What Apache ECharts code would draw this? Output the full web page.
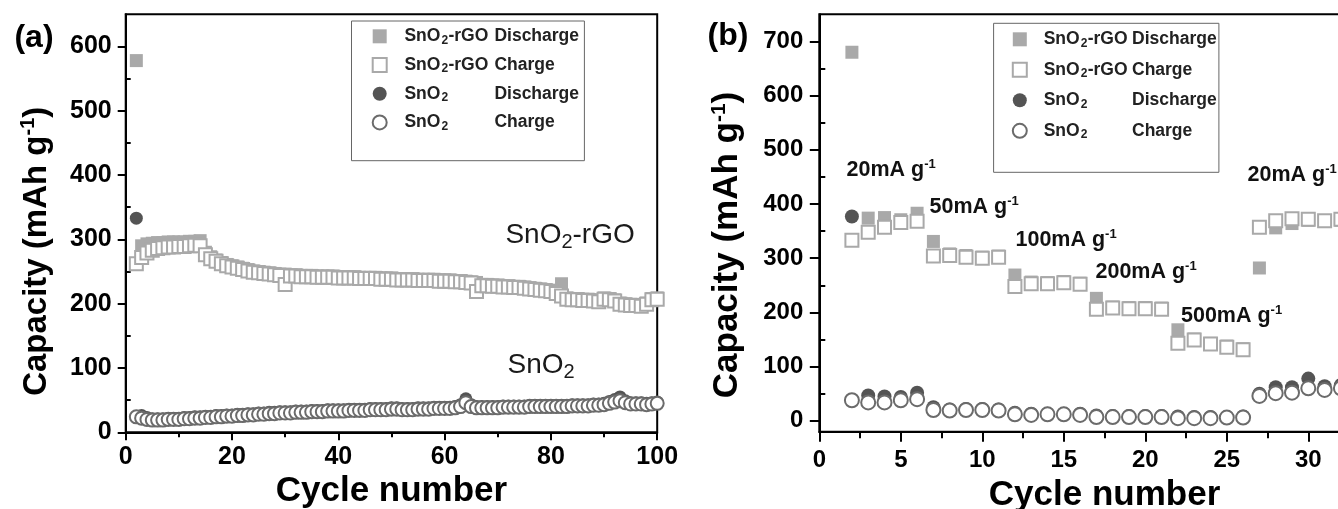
<!DOCTYPE html>
<html><head><meta charset="utf-8">
<script src="https://cdn.jsdelivr.net/npm/echarts@6/dist/echarts.min.js"></script>
<style>html,body{margin:0;padding:0;background:#fff}#c{width:1338px;height:509px}</style>
</head><body><div id="c"></div>
<script>
// ---------- Panel (a): cycling at constant current ----------
const cyclesA = [2,3,4,5,6,7,8,9,10,11,12,13,14,15,16,17,18,19,20,21,22,23,24,25,26,27,28,29,30,31,32,33,34,35,36,37,38,39,40,41,42,43,44,45,46,47,48,49,50,51,52,53,54,55,56,57,58,59,60,61,62,63,64,65,66,67,68,69,70,71,72,73,74,75,76,77,78,79,80,81,82,83,84,85,86,87,88,89,90,91,92,93,94,95,96,97,98,99,100];
const rgoDischargeA = [578,290,293,294,295,295,296,296,296,296, 297,297,298,280,273,268,264,261,259,257, 255,253,251,250,249,248,247,246,246,245, 245,244,244,244,243,243,243,243,242,242, 242,242,241,241,241,241,240,240,240,239, 239,239,239,238,238,238,238,237,237,237, 236,236,235,234,233,230,230,229,229,228, 228,227,227,226,225,224,223,222,221,219, 231,209,208,208,207,207,206,205,209,208, 206,201,200,199,199,198,201,208,209];
const rgoChargeA = [262,272,279,283,286,287,288,288,289,289, 290,291,290,276,270,266,262,259,257,255, 253,251,249,248,247,246,245,244,230,243, 243,242,242,242,241,241,241,241,240,240, 240,240,239,239,239,239,238,238,238,237, 237,237,237,236,236,236,236,235,235,235, 234,234,233,232,219,228,228,227,227,226, 226,225,225,224,223,222,221,220,219,216, 212,207,206,206,205,205,204,203,207,206, 204,199,198,197,197,196,199,206,207];
const sno2DischargeA = [333,26,23,21,21,21,22,22,22,23, 23,24,24,25,25,26,26,27,27,28, 28,29,29,30,30,31,31,32,32,32, 33,33,33,34,34,34,35,35,35,35, 36,36,36,36,37,37,37,37,38,38, 37,37,37,38,38,38,39,39,39,39, 40,43,52,43,40,40,40,40,40,41, 41,41,41,41,42,42,42,42,42,42, 42,42,43,43,43,43,44,44,45,48, 51,55,49,46,46,46,45,46,47];
const sno2ChargeA = [24,22,20,19,19,19,20,20,20,21, 21,22,22,23,23,24,24,25,25,26, 26,27,27,28,28,29,29,30,30,30, 31,31,31,32,32,32,33,33,33,33, 34,34,34,34,35,35,35,35,36,36, 35,35,35,36,36,36,37,37,37,37, 38,40,46,40,38,38,38,38,38,39, 39,39,39,39,40,40,40,40,40,40, 40,40,41,41,41,41,42,42,43,45, 47,49,46,44,44,44,43,44,45];
const yTicksA = [0,100,200,300,400,500,600];
const yMinorA = [50,150,250,350,450,550];

// ---------- Panel (b): rate capability ----------
const cyclesB = [2,3,4,5,6,7,8,9,10,11,12,13,14,15,16,17,18,19,20,21,22,23,24,25,26,27,28,29,30,31,32];
const rgoDischargeB = [680,374,375,371,383, 331,308,305,302,304, 269,256,255,257,254, 226,210,209,209,208, 168,151,143,138,133, 282,356,364,370,368, 370];
const rgoChargeB = [333,348,357,366,368, 304,305,302,300,302, 248,253,253,255,252, 206,208,207,207,206, 143,149,142,136,131, 357,369,373,372,369, 372];
const sno2DischargeB = [377,47,45,44,52, 25,21,22,22,21, 15,13,13,13,13, 10,9,9,9,9, 8,7,7,7,8, 50,62,62,78,64, 66];
const sno2ChargeB = [38,34,34,38,40, 20,19,20,20,19, 12,11,12,12,11, 7,7,7,7,7, 5,5,5,6,6, 46,51,52,60,57, 60];
const yTicksB = [0,100,200,300,400,500,600,700];
const yMinorB = [50,150,250,350,450,550,650];
const rateLabels = ['20mA g', '50mA g', '100mA g', '200mA g', '500mA g', '20mA g'];

const seriesNames = ['SnO2-rGO Discharge', 'SnO2-rGO Charge', 'SnO2 Discharge', 'SnO2 Charge'];

// ---------- build ----------
const FONT = '"Liberation Sans", Arial, Helvetica, sans-serif';
const pairs = (xs, ys) => xs.map((x, i) => [x, ys[i]]);
const C_RGO = '#a9a9a9', C_SNO_F = '#545454', C_SNO_O = '#6b6b6b';

function mkSeries(name, xs, ys, xi, yi, size) {
  const isRgo = name.indexOf('rGO') >= 0;
  const isDis = name.indexOf('Discharge') >= 0;
  const s = {
    type: 'scatter', name: name, xAxisIndex: xi, yAxisIndex: yi,
    data: pairs(xs, ys), symbol: isRgo ? 'rect' : 'circle',
    symbolSize: size, silent: true, clip: false,
    emphasis: {disabled: true}
  };
  if (isDis) s.itemStyle = {color: isRgo ? C_RGO : C_SNO_F, borderWidth: 0, opacity: 1};
  else s.itemStyle = {color: '#ffffff', borderColor: isRgo ? C_RGO : C_SNO_O, borderWidth: 2, opacity: 1};
  return s;
}

function legendFormatter(name) {
  const map = {
    'SnO2-rGO Discharge': ['-rGO', 'Discharge'],
    'SnO2-rGO Charge': ['-rGO', 'Charge'],
    'SnO2 Discharge': [' ', 'Discharge'],
    'SnO2 Charge': [' ', 'Charge']
  };
  const p = map[name];
  return '{sp| }{a|SnO}{s|2}{b|' + p[0] + '}{c|' + p[1] + '}';
}
function legendRich(sp, bw, cw) {
  const base = {fontFamily: FONT, fontWeight: 'bold', color: '#222'};
  return {
    sp: {width: sp, fontSize: 17},
    a: Object.assign({fontSize: 17.5, width: 37}, base),
    s: Object.assign({fontSize: 12, width: 7, verticalAlign: 'bottom', lineHeight: 12}, base),
    b: Object.assign({fontSize: 17.5, width: bw}, base),
    c: Object.assign({fontSize: 17.5, width: cw}, base)
  };
}

const axisLine = {show: true, onZero: false, lineStyle: {color: '#000', width: 2}};
function tickStyle(len) { return {show: true, inside: false, length: len, lineStyle: {color: '#000', width: 2}}; }

function yName(fs, pad) {
  return {
    name: '{t|Capacity (mAh g}{p|-1}{t|)}',
    nameLocation: 'middle',
    nameTextStyle: {
      fontFamily: FONT, fontWeight: 'bold', fontSize: fs, color: '#000', padding: pad,
      rich: {
        t: {fontFamily: FONT, fontWeight: 'bold', fontSize: fs, lineHeight: fs + 4, color: '#000'},
        p: {fontFamily: FONT, fontWeight: 'bold', fontSize: Math.round(fs * 0.6), lineHeight: Math.round(fs * 0.6), verticalAlign: 'top', color: '#000'}
      }
    }
  };
}

const option = {
  animation: false,
  backgroundColor: '#ffffff',
  grid: [
    {left: 125.7, top: 14.3, width: 531.5, height: 418, show: true, borderColor: '#000', borderWidth: 2, outerBoundsMode: 'none', containLabel: false},
    {left: 819.3, top: 14.3, width: 570.5, height: 417.4, show: true, borderColor: '#000', borderWidth: 2, outerBoundsMode: 'none', containLabel: false}
  ],
  xAxis: [
    {type: 'value', gridIndex: 0, min: 0, max: 100, interval: 20,
     axisLine: axisLine, axisTick: tickStyle(8),
     minorTick: {show: true, splitNumber: 2, length: 5, lineStyle: {color: '#000', width: 2}},
     axisLabel: {fontFamily: FONT, fontWeight: 'bold', fontSize: 25, color: '#000', margin: 12},
     splitLine: {show: false}, minorSplitLine: {show: false},
     name: 'Cycle number', nameLocation: 'middle', nameGap: 34,
     nameTextStyle: {fontFamily: FONT, fontWeight: 'bold', fontSize: 35, color: '#000'}},
    {type: 'value', gridIndex: 1, min: 0, max: 35, interval: 5,
     axisLine: axisLine, axisTick: tickStyle(10),
     minorTick: {show: true, splitNumber: 2, length: 6.5, lineStyle: {color: '#000', width: 2}},
     axisLabel: {fontFamily: FONT, fontWeight: 'bold', fontSize: 24, color: '#000', margin: 17},
     splitLine: {show: false}, minorSplitLine: {show: false},
     name: 'Cycle number', nameLocation: 'middle', nameGap: 36,
     nameTextStyle: {fontFamily: FONT, fontWeight: 'bold', fontSize: 35, color: '#000'}}
  ],
  yAxis: [
    Object.assign({type: 'value', gridIndex: 0, min: 0, max: 650,
     axisLine: axisLine, axisTick: Object.assign(tickStyle(8), {customValues: yTicksA}),
     axisLabel: {customValues: yTicksA, fontFamily: FONT, fontWeight: 'bold', fontSize: 25, color: '#000', margin: 14},
     splitLine: {show: false}, nameGap: 70}, yName(33, [0, 56, 0, 0])),
    {type: 'value', gridIndex: 0, min: 0, max: 650,
     axisLine: {show: false}, axisTick: Object.assign(tickStyle(5), {customValues: yMinorA}),
     axisLabel: {show: false}, splitLine: {show: false}},
    Object.assign({type: 'value', gridIndex: 1, min: -20, max: 750,
     axisLine: axisLine, axisTick: Object.assign(tickStyle(9.5), {customValues: yTicksB}),
     axisLabel: {customValues: yTicksB, fontFamily: FONT, fontWeight: 'bold', fontSize: 24, color: '#000', margin: 16},
     splitLine: {show: false}, nameGap: 72}, yName(35, [0, 44, 0, 0])),
    {type: 'value', gridIndex: 1, min: -20, max: 750,
     axisLine: {show: false}, axisTick: Object.assign(tickStyle(6), {customValues: yMinorB}),
     axisLabel: {show: false}, splitLine: {show: false}}
  ],
  legend: [
    {orient: 'vertical', left: 351.5, top: 21, padding: [5.3, 0, 28.3, 20.2],
     itemWidth: 14, itemHeight: 14, itemGap: 8.7, borderColor: '#666', borderWidth: 1,
     data: seriesNames, selectedMode: false, formatter: legendFormatter,
     textStyle: {fontFamily: FONT, fontSize: 17.5, fontWeight: 'bold', lineHeight: 20, color: '#222', rich: legendRich(12.7, 46, 90)}},
    {orient: 'vertical', left: 993.6, top: 23.3, padding: [6, 0, 31.5, 18.2],
     itemWidth: 14, itemHeight: 14, itemGap: 10.5, borderColor: '#666', borderWidth: 1,
     data: seriesNames, selectedMode: false, formatter: legendFormatter,
     textStyle: {fontFamily: FONT, fontSize: 17.5, fontWeight: 'bold', lineHeight: 20, color: '#222', rich: legendRich(11.9, 44.3, 86.9)}}
  ],
  series: [
    mkSeries(seriesNames[0], cyclesA, rgoDischargeA, 0, 0, 13),
    mkSeries(seriesNames[2], cyclesA, sno2DischargeA, 0, 0, 13),
    mkSeries(seriesNames[1], cyclesA, rgoChargeA, 0, 0, 13),
    mkSeries(seriesNames[3], cyclesA, sno2ChargeA, 0, 0, 13),
    mkSeries(seriesNames[0], cyclesB, rgoDischargeB, 1, 2, 13),
    mkSeries(seriesNames[2], cyclesB, sno2DischargeB, 1, 2, 14),
    mkSeries(seriesNames[1], cyclesB, rgoChargeB, 1, 2, 13),
    mkSeries(seriesNames[3], cyclesB, sno2ChargeB, 1, 2, 14)
  ]
};

// text annotations
function subText(x, y, main, sub, rest, fs) {
  return {type: 'text', x: x, y: y, silent: true, z: 10,
    style: {text: '{m|' + main + '}{s|' + sub + '}{m|' + rest + '}', align: 'left', verticalAlign: 'middle',
      fill: '#1a1a1a', fontFamily: FONT, fontSize: fs,
      rich: {m: {fontFamily: FONT, fontSize: fs, lineHeight: fs + 6, fill: '#1a1a1a'},
             s: {fontFamily: FONT, fontSize: Math.round(fs * 0.72), lineHeight: Math.round(fs * 0.72), verticalAlign: 'bottom', fill: '#1a1a1a'}}}};
}
function supText(x, y, main) {
  return {type: 'text', x: x, y: y, silent: true, z: 10,
    style: {text: '{m|' + main + '}{p|-1}', align: 'left', verticalAlign: 'middle',
      fill: '#111', fontFamily: FONT, fontSize: 21.5, fontWeight: 'bold',
      rich: {m: {fontFamily: FONT, fontSize: 21.5, fontWeight: 'bold', lineHeight: 24, fill: '#111'},
             p: {fontFamily: FONT, fontSize: 13, fontWeight: 'bold', lineHeight: 13, verticalAlign: 'top', fill: '#111'}}}};
}
const ratePos = [[846.5, 170], [929.5, 207], [1015.5, 240], [1095.5, 272], [1181, 316], [1247.5, 175]];
option.graphic = [
  {type: 'text', x: 34, y: 38, silent: true, style: {text: '(a)', align: 'center', verticalAlign: 'middle', fill: '#000', fontFamily: FONT, fontWeight: 'bold', fontSize: 32}},
  {type: 'text', x: 728, y: 36, silent: true, style: {text: '(b)', align: 'center', verticalAlign: 'middle', fill: '#000', fontFamily: FONT, fontWeight: 'bold', fontSize: 32}},
  subText(505.4, 235, 'SnO', '2', '-rGO', 28),
  subText(507.5, 365, 'SnO', '2', '', 28)
].concat(rateLabels.map((t, i) => supText(ratePos[i][0], ratePos[i][1], t)));

const chart = echarts.init(document.getElementById('c'), null, {renderer: 'canvas', width: 1338, height: 509});
chart.setOption(option);
</script></body></html>
